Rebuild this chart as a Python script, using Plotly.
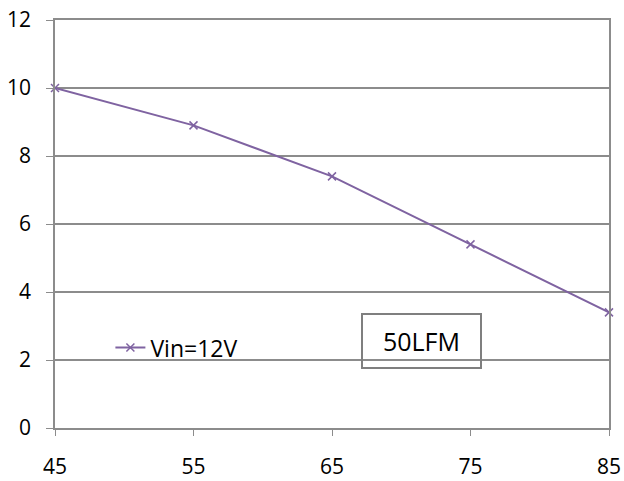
import plotly.graph_objects as go

temps = [45, 55, 65, 75, 85]
current = [10, 8.9, 7.4, 5.4, 3.4]
x_ticks = [45, 55, 65, 75, 85]
y_ticks = [0, 2, 4, 6, 8, 10, 12]
series_name = "Vin=12V"
note = "50LFM"

purple = "#7F63A1"
grid = "#8C8C8C"
font = "Open Sans"

fig = go.Figure()
fig.add_trace(go.Scatter(
    x=temps, y=current, mode="lines+markers", name=series_name,
    line=dict(color=purple, width=2),
    marker=dict(symbol="x-thin", size=8, line=dict(color=purple, width=1.5)),
    cliponaxis=False,
))

fig.update_layout(
    width=624, height=481,
    margin=dict(l=55, r=15, t=20, b=53),
    paper_bgcolor="white", plot_bgcolor="white",
    font=dict(family=font, size=21, color="black"),
    showlegend=True,
    legend=dict(x=0.1, y=0.197, xanchor="left", yanchor="middle",
                bgcolor="rgba(0,0,0,0)", font=dict(size=23)),
    xaxis=dict(range=[45, 85], tickvals=x_ticks, showgrid=False, automargin=False,
               showline=True, linecolor=grid, linewidth=1.5, mirror=True,
               ticks="outside", ticklen=6, tickcolor=grid, zeroline=False,
               ticklabeloverflow="allow",
               ticklabelstandoff=13, tickfont=dict(size=21)),
    yaxis=dict(range=[0, 12], tickvals=y_ticks, showgrid=True, gridcolor=grid,
               gridwidth=1.5, showline=True, linecolor=grid, linewidth=1.5, mirror=True,
               ticks="outside", ticklen=7, tickcolor=grid, zeroline=False, automargin=False,
               ticklabeloverflow="allow",
               ticklabelstandoff=11, tickfont=dict(size=21)),
    annotations=[dict(x=0.552, y=0.282, xref="paper", yref="paper",
                      xanchor="left", yanchor="top", text=note, showarrow=False,
                      font=dict(size=25), bordercolor="#7F7F7F", borderwidth=2,
                      borderpad=8, bgcolor="rgba(255,255,255,0)",
                      width=101, height=36)],
)

fig.write_html(
    "out.html",
    config={"displayModeBar": False},
    post_script="document.body.style.margin='0';document.body.style.overflow='hidden';",
)
